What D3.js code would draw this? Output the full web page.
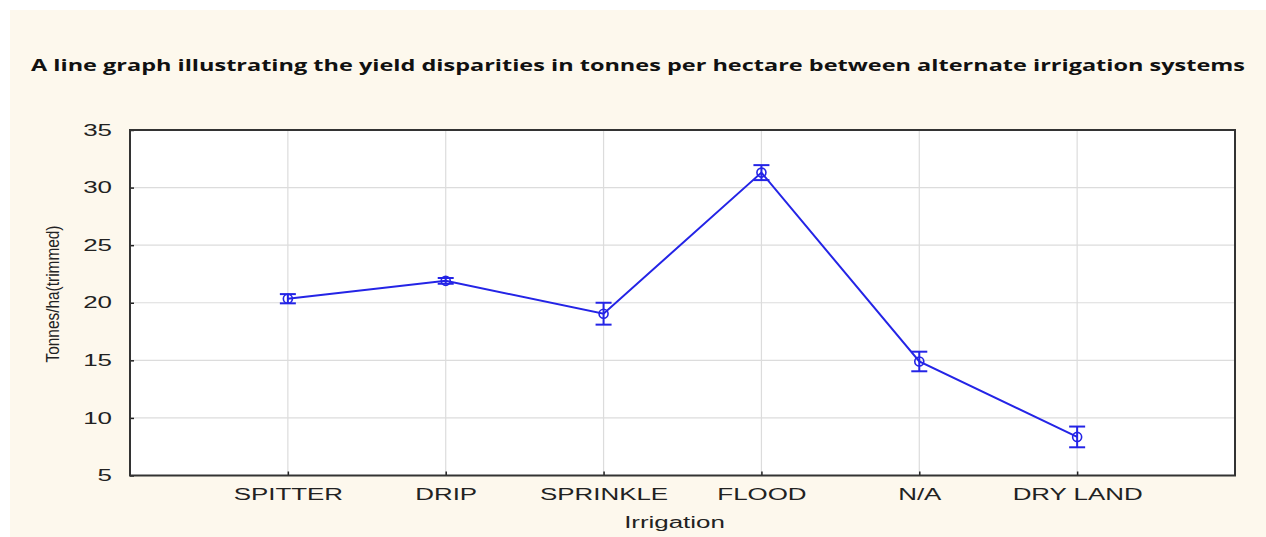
<!DOCTYPE html>
<html>
<head>
<meta charset="utf-8">
<script src="https://cdn.jsdelivr.net/npm/d3@7/dist/d3.min.js"></script>
<style>
  html, body { margin: 0; padding: 0; background: #ffffff; }
  svg { display: block; }
</style>
</head>
<body>
<svg id="chart" width="1266" height="537"></svg>
<script>
// Irrigation systems and their trimmed mean yields (t/ha) with error half-widths
const categories = ["SPITTER", "DRIP", "SPRINKLE", "FLOOD", "N/A", "DRY LAND"];
const yieldMeans = [20.35, 21.9, 19.05, 31.3, 14.9, 8.35];
const yieldErrors = [0.4, 0.25, 0.95, 0.65, 0.85, 0.9];
const yTicks = [5, 10, 15, 20, 25, 30, 35];

const titleText = "A line graph illustrating the yield disparities in tonnes per hectare between alternate irrigation systems";
const xAxisTitle = "Irrigation";
const yAxisTitle = "Tonnes/ha(trimmed)";

const W = 1266, H = 537;
const plot = { left: 130, right: 1235, top: 130, bottom: 475.5 };
const lineColor = "#2424e6";
const labelFont = "'Liberation Sans', Arial, sans-serif";
const stretch = 1.62; // horizontal stretch of the axis lettering

const svg = d3.select("#chart");

// page background
svg.append("rect").attr("x", 0).attr("y", 0).attr("width", W).attr("height", H).attr("fill", "#ffffff");
svg.append("rect").attr("x", 10).attr("y", 10).attr("width", W - 10).attr("height", H - 10).attr("fill", "#fdf8ed");

// title
svg.append("text")
  .attr("x", 638).attr("y", 71)
  .attr("text-anchor", "middle")
  .attr("font-family", "'Open Sans', sans-serif")
  .attr("font-weight", "bold")
  .attr("font-size", 16.5)
  .attr("fill", "#111")
  .attr("textLength", 1214)
  .attr("lengthAdjust", "spacingAndGlyphs")
  .text(titleText);

// scales: categories sit at positions 1..6 on a 0..7 span
const x = d3.scaleLinear().domain([0, categories.length + 1]).range([plot.left, plot.right]);
const y = d3.scaleLinear().domain([5, 35]).range([plot.bottom, plot.top]);

// plot area
svg.append("rect")
  .attr("x", plot.left).attr("y", plot.top)
  .attr("width", plot.right - plot.left).attr("height", plot.bottom - plot.top)
  .attr("fill", "#ffffff");

// grid
const grid = svg.append("g").attr("stroke", "#dcdcdc").attr("stroke-width", 1.2);
grid.selectAll("line.h").data(yTicks.slice(1, -1)).join("line")
  .attr("x1", plot.left).attr("x2", plot.right)
  .attr("y1", d => y(d)).attr("y2", d => y(d));
grid.selectAll("line.v").data(categories).join("line")
  .attr("x1", (d, i) => x(i + 1)).attr("x2", (d, i) => x(i + 1))
  .attr("y1", plot.top).attr("y2", plot.bottom);

// y axis (ticks point inward)
const yAxis = d3.axisLeft(y).tickValues(yTicks).tickSize(-4).tickPadding(18).tickFormat(d3.format("d"));
const gy = svg.append("g").attr("transform", `translate(${plot.left},0)`).call(yAxis);
gy.select(".domain").remove();
gy.selectAll(".tick line").attr("stroke", "#222").attr("stroke-width", 1.5);
gy.selectAll(".tick text")
  .attr("x", 0)
  .attr("transform", `translate(-18,0) scale(${stretch},1)`)
  .attr("font-family", labelFont)
  .attr("font-size", 16).attr("fill", "#222");

// x axis (ticks point inward)
const xAxis = d3.axisBottom(x)
  .tickValues(d3.range(1, categories.length + 1))
  .tickSize(-4).tickPadding(13)
  .tickFormat(d => categories[d - 1]);
const gx = svg.append("g").attr("transform", `translate(0,${plot.bottom})`).call(xAxis);
gx.select(".domain").remove();
gx.selectAll(".tick line").attr("stroke", "#222").attr("stroke-width", 1.5);
gx.selectAll(".tick text")
  .attr("transform", `scale(${stretch},1)`)
  .attr("font-family", labelFont)
  .attr("font-size", 16).attr("fill", "#222");

// frame
svg.append("rect")
  .attr("x", plot.left).attr("y", plot.top)
  .attr("width", plot.right - plot.left).attr("height", plot.bottom - plot.top)
  .attr("fill", "none").attr("stroke", "#333").attr("stroke-width", 2);

// axis titles
svg.append("text")
  .attr("transform", `translate(${(plot.left + plot.right) / 2 - 8},528) scale(${stretch},1)`)
  .attr("text-anchor", "middle")
  .attr("font-family", labelFont)
  .attr("font-size", 16).attr("fill", "#222")
  .text(xAxisTitle);

svg.append("text")
  .attr("transform", `translate(59,294) rotate(-90)`)
  .attr("text-anchor", "middle")
  .attr("font-family", "'Liberation Sans Narrow', 'Liberation Sans', Arial, sans-serif")
  .attr("font-size", 18).attr("fill", "#222")
  .attr("textLength", 137)
  .attr("lengthAdjust", "spacingAndGlyphs")
  .text(yAxisTitle);

// data series
const data = categories.map((c, i) => ({ c, i, m: yieldMeans[i], e: yieldErrors[i] }));

svg.append("path")
  .datum(data)
  .attr("fill", "none").attr("stroke", lineColor).attr("stroke-width", 2)
  .attr("d", d3.line().x(d => x(d.i + 1)).y(d => y(d.m)));

const eb = svg.append("g").attr("stroke", lineColor).attr("stroke-width", 2).attr("fill", "none");
eb.selectAll("line.stem").data(data).join("line")
  .attr("x1", d => x(d.i + 1)).attr("x2", d => x(d.i + 1))
  .attr("y1", d => y(d.m - d.e)).attr("y2", d => y(d.m + d.e));
eb.selectAll("line.top").data(data).join("line")
  .attr("x1", d => x(d.i + 1) - 8).attr("x2", d => x(d.i + 1) + 8)
  .attr("y1", d => y(d.m + d.e)).attr("y2", d => y(d.m + d.e));
eb.selectAll("line.bot").data(data).join("line")
  .attr("x1", d => x(d.i + 1) - 8).attr("x2", d => x(d.i + 1) + 8)
  .attr("y1", d => y(d.m - d.e)).attr("y2", d => y(d.m - d.e));
eb.selectAll("circle").data(data).join("circle")
  .attr("cx", d => x(d.i + 1)).attr("cy", d => y(d.m)).attr("r", 4.5)
  .attr("stroke-width", 1.6);
</script>
</body>
</html>
